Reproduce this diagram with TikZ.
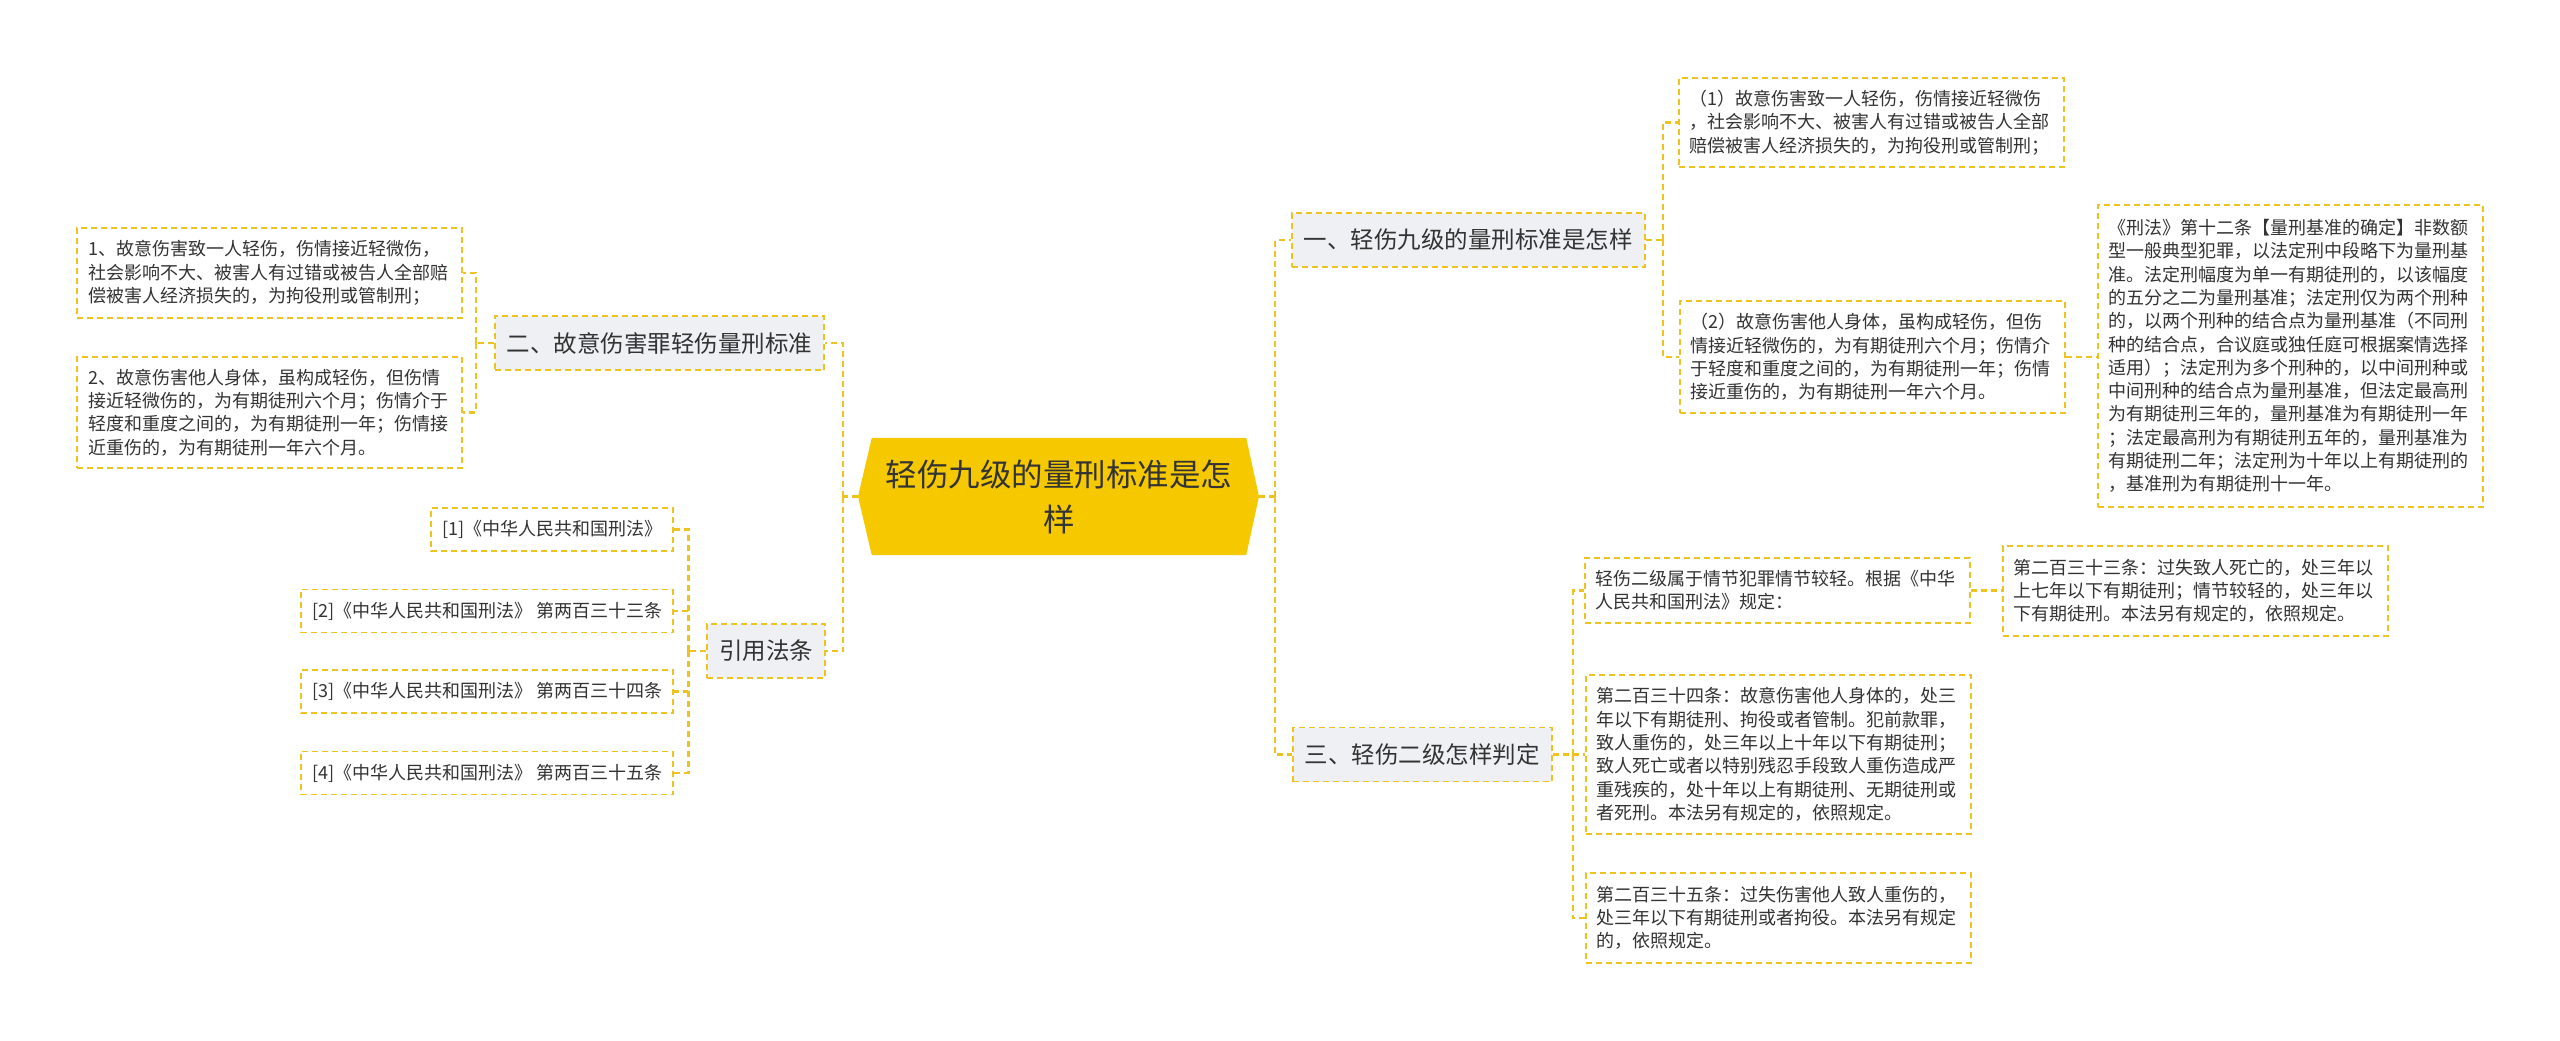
\documentclass[tikz,border=0pt]{standalone}
\usepackage{fontspec}
\setmainfont{Noto Sans CJK SC}
\usetikzlibrary{backgrounds,calc}
\definecolor{lineY}{HTML}{EFC31F}
\definecolor{centerY}{HTML}{F5C800}
\definecolor{branchG}{HTML}{EEF0F3}
\definecolor{txt}{HTML}{333333}
\tikzset{
 conn/.style={draw=lineY, line width=2.2pt, dash pattern=on 6pt off 4pt},
 leafbox/.style={draw=lineY, line width=1.6pt, dash pattern=on 6pt off 4pt, fill=white, text=txt, align=left, inner xsep=11pt, inner ysep=4pt, font=\fontsize{18}{23.3}\selectfont},
 leafw/.style={leafbox, text width=363pt},
 branch/.style={draw=lineY, line width=1.6pt, dash pattern=on 6pt off 4pt, fill=branchG, text=txt, inner xsep=12pt, inner ysep=2pt, minimum height=54pt, font=\fontsize{23.5}{28}\selectfont},
 hub/.style={minimum width=374pt, minimum height=117pt, inner sep=0pt, align=center, text=txt, font=\fontsize{31.5}{45}\selectfont}
}
\begin{document}
\begin{tikzpicture}[x=1pt,y=-1pt]
\useasboundingbox (0,0) rectangle (2560,1041);

% central
\coordinate (cL) at (858,496.5);
\coordinate (cR) at (1259,496.5);
\node[hub] (c) at (1059,496.5) {轻伤九级的量刑标准是怎\\样};

% left branches
\node[branch, anchor=east] (b2) at (825,343) {二、故意伤害罪轻伤量刑标准};
\node[branch, anchor=east] (b3) at (826,651) {引用法条};
\node[leafw, minimum height=90pt, anchor=east] (l2a) at (463,273) {1、故意伤害致一人轻伤，伤情接近轻微伤，\\社会影响不大、被害人有过错或被告人全部赔\\偿被害人经济损失的，为拘役刑或管制刑；};
\node[leafw, minimum height=111pt, anchor=east] (l2b) at (463,412.5) {2、故意伤害他人身体，虽构成轻伤，但伤情\\接近轻微伤的，为有期徒刑六个月；伤情介于\\轻度和重度之间的，为有期徒刑一年；伤情接\\近重伤的，为有期徒刑一年六个月。};
\node[leafbox, minimum height=43pt, anchor=east] (r1) at (674,529.5) {[1]《中华人民共和国刑法》};
\node[leafbox, minimum height=43pt, anchor=east] (r2) at (674,611) {[2]《中华人民共和国刑法》 第两百三十三条};
\node[leafbox, minimum height=43pt, anchor=east] (r3) at (674,691.5) {[3]《中华人民共和国刑法》 第两百三十四条};
\node[leafbox, minimum height=43pt, anchor=east] (r4) at (674,773) {[4]《中华人民共和国刑法》 第两百三十五条};

% right branches
\node[branch, anchor=west] (b1) at (1291,240) {一、轻伤九级的量刑标准是怎样};
\node[branch, anchor=west] (b4) at (1292,754.5) {三、轻伤二级怎样判定};
\node[leafw, minimum height=89pt, anchor=west] (l1a) at (1678,122.5) {（1）故意伤害致一人轻伤，伤情接近轻微伤\\，社会影响不大、被害人有过错或被告人全部\\赔偿被害人经济损失的，为拘役刑或管制刑；};
\node[leafw, minimum height=112pt, anchor=west] (l1b) at (1679,357) {（2）故意伤害他人身体，虽构成轻伤，但伤\\情接近轻微伤的，为有期徒刑六个月；伤情介\\于轻度和重度之间的，为有期徒刑一年；伤情\\接近重伤的，为有期徒刑一年六个月。};
\node[leafw, minimum height=302pt, anchor=west] (l1c) at (2097,356) {《刑法》第十二条【量刑基准的确定】非数额\\型一般典型犯罪，以法定刑中段略下为量刑基\\准。法定刑幅度为单一有期徒刑的，以该幅度\\的五分之二为量刑基准；法定刑仅为两个刑种\\的，以两个刑种的结合点为量刑基准（不同刑\\种的结合点，合议庭或独任庭可根据案情选择\\适用）；法定刑为多个刑种的，以中间刑种或\\中间刑种的结合点为量刑基准，但法定最高刑\\为有期徒刑三年的，量刑基准为有期徒刑一年\\；法定最高刑为有期徒刑五年的，量刑基准为\\有期徒刑二年；法定刑为十年以上有期徒刑的\\，基准刑为有期徒刑十一年。};
\node[leafw, minimum height=65pt, anchor=west] (l3a) at (1584,590.5) {轻伤二级属于情节犯罪情节较轻。根据《中华\\人民共和国刑法》规定：};
\node[leafw, minimum height=90pt, anchor=west] (l3d) at (2002,591) {第二百三十三条：过失致人死亡的，处三年以\\上七年以下有期徒刑；情节较轻的，处三年以\\下有期徒刑。本法另有规定的，依照规定。};
\node[leafw, minimum height=159pt, anchor=west] (l3b) at (1585,754.5) {第二百三十四条：故意伤害他人身体的，处三\\年以下有期徒刑、拘役或者管制。犯前款罪，\\致人重伤的，处三年以上十年以下有期徒刑；\\致人死亡或者以特别残忍手段致人重伤造成严\\重残疾的，处十年以上有期徒刑、无期徒刑或\\者死刑。本法另有规定的，依照规定。};
\node[leafw, minimum height=90pt, anchor=west] (l3c) at (1585,918) {第二百三十五条：过失伤害他人致人重伤的，\\处三年以下有期徒刑或者拘役。本法另有规定\\的，依照规定。};

\begin{scope}[on background layer]
\fill[white] (0,0) rectangle (2560,1041);
\fill[centerY] (c.north west) -- (c.north east) -- (cR) -- (c.south east) -- (c.south west) -- (cL) -- cycle;
% junctions
\coordinate (jL) at ($(cL)+(-15,0)$);
\coordinate (jR) at ($(cR)+(16,0)$);
\coordinate (j1) at ($(b1.east)+(17,0)$);
\coordinate (j3) at ($(b4.east)+(20,0)$);
\coordinate (j2) at ($(b2.west)+(-18,0)$);
\coordinate (j4) at ($(b3.west)+(-18,0)$);
\draw[conn] (cL) -- (jL);
\draw[conn] (jL) |- (b2.east);
\draw[conn] (jL) |- (b3.east);
\draw[conn] (cR) -- (jR);
\draw[conn] (jR) |- (b1.west);
\draw[conn] (jR) |- (b4.west);
\draw[conn] (b1.east) -- (j1);
\draw[conn] (j1) |- (l1a.west);
\draw[conn] (j1) |- (l1b.west);
\draw[conn] (l1b.east) -- (l1b.east -| l1c.west);
\draw[conn] (b4.east) -- (j3);
\draw[conn] (j3) |- (l3a.west);
\draw[conn] (j3) |- (l3b.west);
\draw[conn] (j3) |- (l3c.west);
\draw[conn] (l3a.east) -- (l3a.east -| l3d.west);
\draw[conn] (b2.west) -- (j2);
\draw[conn] (j2) |- (l2a.east);
\draw[conn] (j2) |- (l2b.east);
\draw[conn] (b3.west) -- (j4);
\draw[conn] (j4) |- (r1.east);
\draw[conn] (j4) |- (r2.east);
\draw[conn] (j4) |- (r3.east);
\draw[conn] (j4) |- (r4.east);
\end{scope}
\end{tikzpicture}
\end{document}
